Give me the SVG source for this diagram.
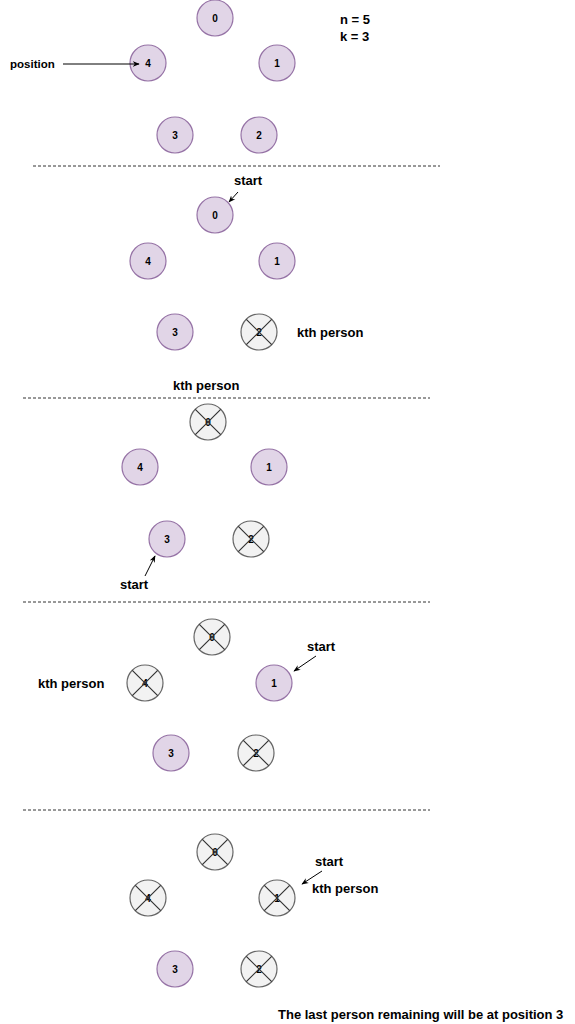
<svg xmlns="http://www.w3.org/2000/svg" width="575" height="1024" viewBox="0 0 575 1024">
<style>
text{font-family:"Liberation Sans",Arial,sans-serif;font-weight:bold;fill:#000}
.lbl{font-size:13px}
.sm{font-size:11.5px}
.num{font-size:10px;text-anchor:middle;dominant-baseline:central}
.p{fill:#e1d5e7;stroke:#9673a6;stroke-width:1.2}
.x{fill:#f2f2f2;stroke:#666;stroke-width:1.2}
.xl{stroke:#333;stroke-width:1.2}
.dash{stroke:#333;stroke-width:1;stroke-dasharray:3 2;fill:none}
.arr{stroke:#000;stroke-width:1;fill:none;marker-end:url(#ah)}
</style>
<defs>
<marker id="ah" viewBox="0 0 10 10" refX="9" refY="5" markerWidth="7" markerHeight="7" orient="auto" markerUnits="userSpaceOnUse"><path d="M0,1 L10,5 L0,9 L3,5 Z" fill="#000"/></marker>
</defs>
<rect width="575" height="1024" fill="#fff"/>
<g id="labels">
<text class="lbl" x="340" y="24">n = 5</text>
<text class="lbl" x="340" y="41">k = 3</text>
<text class="sm" x="10" y="68">position</text>
<text class="lbl" x="234" y="185">start</text>
<text class="lbl" x="297" y="337">kth person</text>
<text class="lbl" x="173" y="390">kth person</text>
<text class="lbl" x="120" y="589">start</text>
<text class="lbl" x="307" y="651">start</text>
<text class="lbl" x="38" y="688">kth person</text>
<text class="lbl" x="315" y="866">start</text>
<text class="lbl" x="312" y="893">kth person</text>
<text class="lbl" x="278" y="1019">The last person remaining will be at position 3</text>
</g>
<g id="s1">
<g id="s1n0"><circle cx="215" cy="18" r="18" class="p"/><text class="num" x="215" y="18">0</text></g>
<g id="s1n4"><circle cx="148" cy="63" r="18" class="p"/><text class="num" x="148" y="63">4</text></g>
<g id="s1n1"><circle cx="277" cy="63" r="18" class="p"/><text class="num" x="277" y="63">1</text></g>
<g id="s1n3"><circle cx="175" cy="135" r="18" class="p"/><text class="num" x="175" y="135">3</text></g>
<g id="s1n2"><circle cx="259" cy="135" r="18" class="p"/><text class="num" x="259" y="135">2</text></g>
</g>
<g id="s2">
<g id="s2n0"><circle cx="215" cy="215" r="18" class="p"/><text class="num" x="215" y="215">0</text></g>
<g id="s2n4"><circle cx="148" cy="261" r="18" class="p"/><text class="num" x="148" y="261">4</text></g>
<g id="s2n1"><circle cx="277" cy="261" r="18" class="p"/><text class="num" x="277" y="261">1</text></g>
<g id="s2n3"><circle cx="175" cy="332" r="18" class="p"/><text class="num" x="175" y="332">3</text></g>
<g id="s2n2" transform="translate(259,332)"><circle r="18" class="x"/><text class="num" x="0" y="0">2</text><path class="xl" d="M-12.7,-12.7L12.7,12.7M12.7,-12.7L-12.7,12.7"/></g>
</g>
<g id="s3">
<g id="s3n0" transform="translate(208,422)"><circle r="18" class="x"/><text class="num" x="0" y="0">0</text><path class="xl" d="M-12.7,-12.7L12.7,12.7M12.7,-12.7L-12.7,12.7"/></g>
<g id="s3n4"><circle cx="140" cy="467" r="18" class="p"/><text class="num" x="140" y="467">4</text></g>
<g id="s3n1"><circle cx="269" cy="467" r="18" class="p"/><text class="num" x="269" y="467">1</text></g>
<g id="s3n3"><circle cx="167" cy="539" r="18" class="p"/><text class="num" x="167" y="539">3</text></g>
<g id="s3n2" transform="translate(251,539)"><circle r="18" class="x"/><text class="num" x="0" y="0">2</text><path class="xl" d="M-12.7,-12.7L12.7,12.7M12.7,-12.7L-12.7,12.7"/></g>
</g>
<g id="s4">
<g id="s4n0" transform="translate(212,637)"><circle r="18" class="x"/><text class="num" x="0" y="0">0</text><path class="xl" d="M-12.7,-12.7L12.7,12.7M12.7,-12.7L-12.7,12.7"/></g>
<g id="s4n4" transform="translate(145,683)"><circle r="18" class="x"/><text class="num" x="0" y="0">4</text><path class="xl" d="M-12.7,-12.7L12.7,12.7M12.7,-12.7L-12.7,12.7"/></g>
<g id="s4n1"><circle cx="274" cy="683" r="18" class="p"/><text class="num" x="274" y="683">1</text></g>
<g id="s4n3"><circle cx="171" cy="753" r="18" class="p"/><text class="num" x="171" y="753">3</text></g>
<g id="s4n2" transform="translate(256,753)"><circle r="18" class="x"/><text class="num" x="0" y="0">2</text><path class="xl" d="M-12.7,-12.7L12.7,12.7M12.7,-12.7L-12.7,12.7"/></g>
</g>
<g id="s5">
<g id="s5n0" transform="translate(215,852)"><circle r="18" class="x"/><text class="num" x="0" y="0">0</text><path class="xl" d="M-12.7,-12.7L12.7,12.7M12.7,-12.7L-12.7,12.7"/></g>
<g id="s5n4" transform="translate(148,898)"><circle r="18" class="x"/><text class="num" x="0" y="0">4</text><path class="xl" d="M-12.7,-12.7L12.7,12.7M12.7,-12.7L-12.7,12.7"/></g>
<g id="s5n1" transform="translate(277,898)"><circle r="18" class="x"/><text class="num" x="0" y="0">1</text><path class="xl" d="M-12.7,-12.7L12.7,12.7M12.7,-12.7L-12.7,12.7"/></g>
<g id="s5n3"><circle cx="175" cy="969" r="18" class="p"/><text class="num" x="175" y="969">3</text></g>
<g id="s5n2" transform="translate(259,969)"><circle r="18" class="x"/><text class="num" x="0" y="0">2</text><path class="xl" d="M-12.7,-12.7L12.7,12.7M12.7,-12.7L-12.7,12.7"/></g>
</g>
<g id="connectors">
<line class="dash" x1="33" y1="166" x2="440" y2="166"/>
<line class="dash" x1="23" y1="398" x2="430" y2="398"/>
<line class="dash" x1="23" y1="602" x2="430" y2="602"/>
<line class="dash" x1="23" y1="810" x2="430" y2="810"/>
<line class="arr" x1="63" y1="64" x2="139" y2="64"/>
<line class="arr" x1="238" y1="192" x2="229" y2="202"/>
<line class="arr" x1="145" y1="576" x2="155" y2="556"/>
<line class="arr" x1="316" y1="656" x2="294" y2="671"/>
<line class="arr" x1="322" y1="871" x2="302" y2="884"/>
</g>
</svg>
